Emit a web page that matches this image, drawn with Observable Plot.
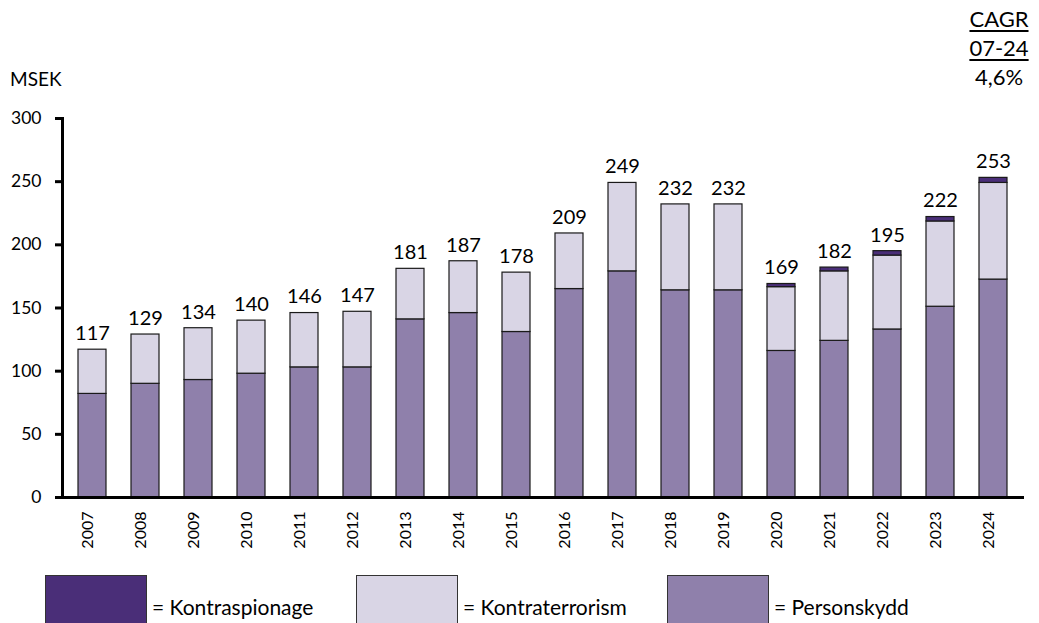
<!DOCTYPE html>
<html>
<head>
<meta charset="utf-8">
<script src="https://cdn.jsdelivr.net/npm/d3@7"></script>
<script src="https://cdn.jsdelivr.net/npm/@observablehq/plot@0.6"></script>
<style>
  html, body { margin: 0; padding: 0; background: #fff; }
  body { width: 1039px; height: 623px; overflow: hidden; position: relative; font-family: Lato, "Open Sans", sans-serif; color: #000; }
  #chart { position: absolute; left: 0; top: 0; }
  .unit { position: absolute; left: 10px; top: 67px; font-size: 19px; }
  .cagr { position: absolute; left: 954px; width: 90px; top: 4px; text-align: center; font-size: 22px; line-height: 29px; }
  .cagr u { text-decoration-thickness: 2px; text-underline-offset: 3px; }
  .legend { position: absolute; top: 575px; left: 0; height: 48px; }
  .legend .sw { position: absolute; top: 0; width: 102px; height: 60px; border: 1px solid #333; box-sizing: border-box; }
  .legend .lb { position: absolute; top: 19px; font-size: 21px; white-space: nowrap; }
</style>
</head>
<body>
<div id="chart"></div>
<div class="unit">MSEK</div>
<div class="cagr"><u>CAGR</u><br><u>07-24</u><br>4,6%</div>
<div class="legend" id="legend"></div>
<script>
const years = ["2007","2008","2009","2010","2011","2012","2013","2014","2015","2016","2017","2018","2019","2020","2021","2022","2023","2024"];
const totals = [117,129,134,140,146,147,181,187,178,209,249,232,232,169,182,195,222,253];
const personskydd = [82,90,93,98,103,103,141,146,131,165,179,164,164,116,124,133,151,172.5];
const kontraspionage = [0,0,0,0,0,0,0,0,0,0,0,0,0,2.5,3,3.5,3.5,4];
const kontraterrorism = totals.map((t, i) => t - personskydd[i] - kontraspionage[i]);
const seriesNames = ["Personskydd", "Kontraterrorism", "Kontraspionage"];
const seriesColors = ["#8f80ab", "#d9d5e5", "#4a2e78"];
const yTicks = [0, 50, 100, 150, 200, 250, 300];

const rows = [];
years.forEach((y, i) => {
  rows.push({year: y, series: "Personskydd", value: personskydd[i]});
  rows.push({year: y, series: "Kontraterrorism", value: kontraterrorism[i]});
  rows.push({year: y, series: "Kontraspionage", value: kontraspionage[i]});
});
const totalRows = years.map((y, i) => ({year: y, total: totals[i]}));

const W = 1039, H = 560;
const plot = Plot.plot({
  width: W,
  height: H,
  marginLeft: 62,
  marginRight: 15,
  marginTop: 118,
  marginBottom: 63,
  style: {fontFamily: "Lato, 'Open Sans', sans-serif", background: "#fff", overflow: "visible"},
  x: {domain: years, paddingInner: 0.47, paddingOuter: 0.229, label: null, axis: null},
  y: {domain: [0, 300], label: null},
  color: {domain: seriesNames, range: seriesColors},
  marks: [
    Plot.barY(rows, Plot.stackY({order: seriesNames}, {
      x: "year", y: "value", fill: "series",
      stroke: "#1a1a1a", strokeWidth: 1.2,
      filter: d => d.value > 0
    })),
    Plot.text(totalRows, {x: "year", y: "total", text: d => String(d.total), dy: -16, fontSize: 20, fill: "#000"}),
    Plot.axisY({ticks: yTicks, tickSize: 7, tickPadding: 14, strokeWidth: 3, stroke: "#000", fontSize: 17.5, label: null, tickFormat: d => String(d)}),
    Plot.frame({anchor: "left", strokeWidth: 3, stroke: "#000"}),
    Plot.text(years, {x: d => d, frameAnchor: "bottom", text: d => d, rotate: -90, textAnchor: "end", dy: 14, fontSize: 16, fill: "#000", ariaLabel: "yearlab"}),
    Plot.ruleY([0], {strokeWidth: 3, stroke: "#000"})
  ]
});
document.getElementById("chart").appendChild(plot);
d3.select(plot).selectAll('g[aria-label="yearlab"]')
  .attr("font-family", "'Liberation Sans', Arial, sans-serif")
  .attr("font-size", 16)
  .style("font-family", "'Liberation Sans', Arial, sans-serif")
  .style("font-size", "16px");

const legendItems = [
  {name: "Kontraspionage", color: seriesColors[2], x: 45},
  {name: "Kontraterrorism", color: seriesColors[1], x: 356},
  {name: "Personskydd", color: seriesColors[0], x: 667}
];
const lg = document.getElementById("legend");
legendItems.forEach(it => {
  const sw = document.createElement("div");
  sw.className = "sw"; sw.style.left = it.x + "px"; sw.style.background = it.color;
  lg.appendChild(sw);
  const lb = document.createElement("div");
  lb.className = "lb"; lb.style.left = (it.x + 107) + "px"; lb.textContent = "= " + it.name;
  lg.appendChild(lb);
});
</script>
</body>
</html>
